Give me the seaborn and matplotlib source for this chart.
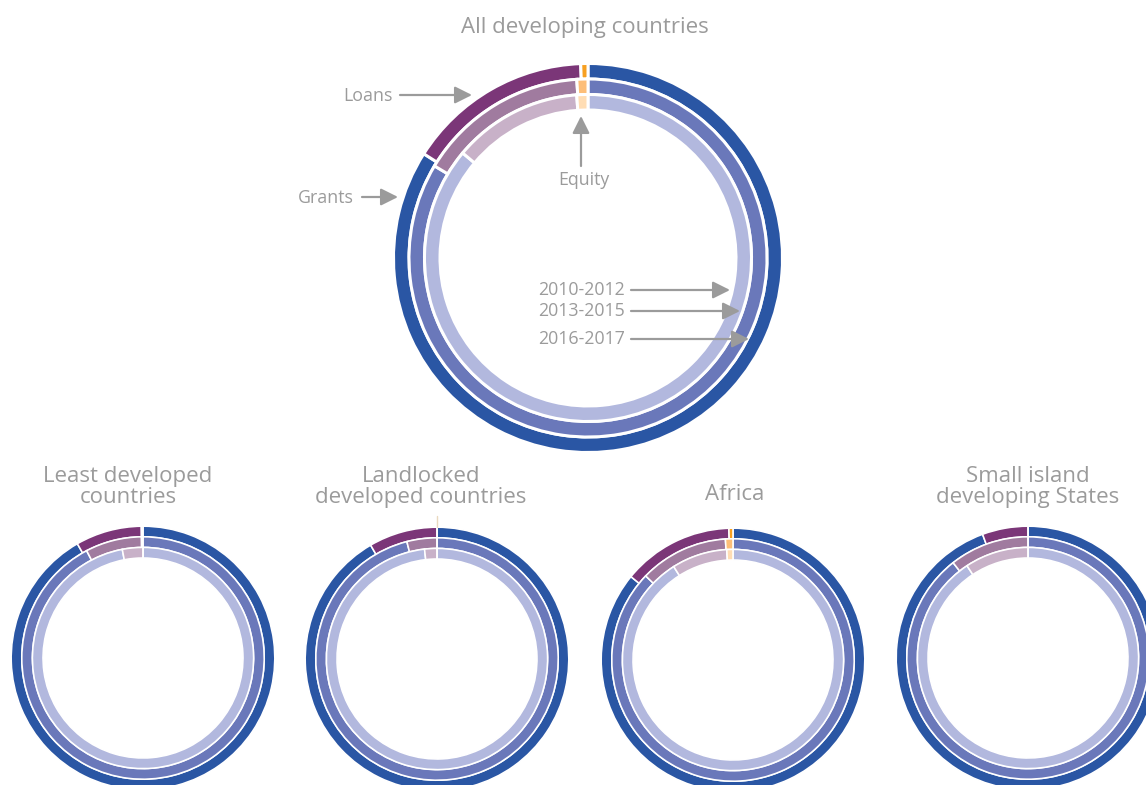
import matplotlib
matplotlib.use("Agg")
import matplotlib.pyplot as plt
import seaborn as sns

# ---------------- data ----------------
regions = ["All developing countries", "Least developed\ncountries",
           "Landlocked\ndeveloped countries", "Africa",
           "Small island\ndeveloping States"]
periods = ["2010-2012", "2013-2015", "2016-2017"]   # inner -> outer ring

# shares (%) per region, per period (2010-2012, 2013-2015, 2016-2017)
grants = [[86.1, 83.6, 84.0],
          [97.0, 92.3, 91.7],
          [98.2, 96.0, 91.6],
          [91.0, 87.2, 85.9],
          [90.7, 89.4, 94.4]]
loans = [[12.8, 15.4, 15.4],
         [3.0, 7.5, 8.1],
         [1.8, 4.0, 8.4],
         [8.1, 11.8, 13.6],
         [9.3, 10.6, 5.6]]
equity = [[1.1, 1.0, 0.6],
          [0.0, 0.2, 0.2],
          [0.0, 0.0, 0.0],
          [0.9, 1.0, 0.5],
          [0.0, 0.0, 0.0]]

# ---------------- style ----------------
sns.set_theme(style="white")
plt.rcParams["font.family"] = ["Open Sans", "DejaVu Sans"]

grey = "#9B9B9B"
grant_cols = ["#B2B8DE", "#6A78BA", "#2A56A4"]
loan_cols = ["#C8B1C8", "#A07B9F", "#7B3678"]
equity_cols = ["#FFDDB4", "#FDBE78", "#F7A021"]

W, H = 1146, 785
fig = plt.figure(figsize=(W / 100, H / 100), dpi=100)
ax = fig.add_axes([0, 0, 1, 1])

def Y(y):
    return H - y

# donut layout (pixel coords): centre x, centre y, outer radius, ring pitch, gap
layout = [(588, 258, 194.5, 15.5, 3.0),
          (143, 658, 131.8, 10.6, 1.6),
          (437, 659, 131.8, 10.6, 1.6),
          (733, 660, 131.8, 10.6, 1.6),
          (1028, 658, 131.8, 10.6, 1.6)]

for i, (cx, cy, r0, pitch, gap) in enumerate(layout):
    for j in range(3):
        ring = 2 - j   # outer ring = latest period
        vals = [grants[i][ring], loans[i][ring], equity[i][ring]]
        cols = [grant_cols[ring], loan_cols[ring], equity_cols[ring]]
        ax.pie(vals, colors=cols, center=(cx, Y(cy)), radius=r0 - j * pitch,
               startangle=90, counterclock=False,
               wedgeprops=dict(width=pitch, edgecolor="white",
                               linewidth=gap / (100 / 72)))

# titles
ax.text(585, Y(28), regions[0], ha="center", va="center", fontsize=16, color=grey)
title_pos = [(128, 487), (421, 487), (735, 495), (1028, 487)]
for (tx, ty), name in zip(title_pos, regions[1:]):
    ax.text(tx, Y(ty), name, ha="center", va="center", fontsize=16,
            color=grey, linespacing=0.98)

# annotations on the large donut
arrow = dict(arrowstyle="-|>", color=grey, lw=1.6, mutation_scale=26,
             shrinkA=0, shrinkB=0)
lab_fs = 12.8
ax.annotate("", xy=(472, Y(95)), xytext=(400, Y(95)), arrowprops=arrow)
ax.text(393, Y(96), "Loans", ha="right", va="center", fontsize=lab_fs, color=grey)
ax.annotate("", xy=(398, Y(197)), xytext=(362, Y(197)), arrowprops=arrow)
ax.text(354, Y(198), "Grants", ha="right", va="center", fontsize=lab_fs, color=grey)
ax.annotate("", xy=(581, Y(116)), xytext=(581, Y(166)), arrowprops=arrow)
ax.text(584, Y(180), "Equity", ha="center", va="center", fontsize=lab_fs, color=grey)

label_y = [290, 311, 339]
arrow_end = [730, 740, 749]
for lab, ly, ex in zip(periods, label_y, arrow_end):
    ax.text(625, Y(ly), lab, ha="right", va="center", fontsize=lab_fs, color=grey)
    ax.annotate("", xy=(ex, Y(ly)), xytext=(631, Y(ly)), arrowprops=arrow)

# small tick above landlocked donut
ax.plot([437, 437], [Y(516), Y(527)], color="#EAD9BF", lw=1)

ax.set_xlim(0, W)
ax.set_ylim(0, H)
ax.set_aspect("equal")
ax.axis("off")

fig.savefig("out.png", dpi=100)
